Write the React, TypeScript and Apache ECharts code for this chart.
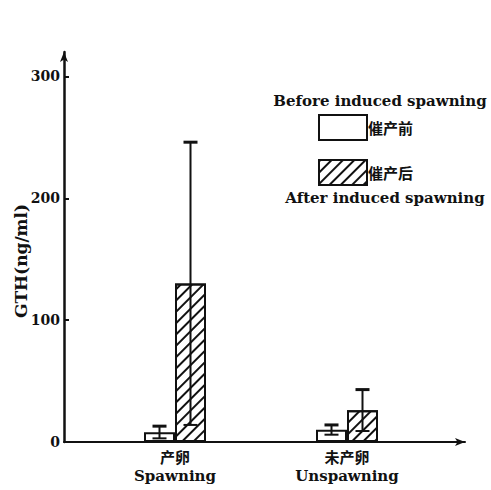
import React, { useEffect, useRef } from "react";
import * as echarts from "echarts";

const categoriesCn = ["产卵", "未产卵"];
const categoriesEn = ["Spawning", "Unspawning"];
const beforeMean = [8, 10];
const beforeErr = [5, 4];
const afterMean = [130, 26];
const afterErr = [116, 17];
const yTicks = [0, 100, 200, 300];
const seriesNames = ["催产前", "催产后"];
const legendEn = ["Before induced spawning", "After induced spawning"];

const SERIF = "DejaVu Serif";
const CJK = "Noto Sans CJK SC";
const INK = "#111";
const BAR_W = 31;

export default function App() {
  const ref = useRef<HTMLDivElement>(null);
  useEffect(() => {
    if (!ref.current) return;
    const chart = echarts.init(ref.current, undefined, { renderer: "svg" });
    const hatch = {
      symbol: "rect",
      symbolSize: 1,
      dashArrayX: [1, 0],
      dashArrayY: [2, 6],
      rotation: -Math.PI / 4,
      color: INK,
      backgroundColor: "rgba(0,0,0,0)",
    };
    const errSeries = (data: number[][], sign: number) => ({
      type: "custom",
      xAxisIndex: 1,
      yAxisIndex: 1,
      z: 5,
      silent: true,
      data,
      renderItem: (params: any, api: any) => {
        const c = api.value(0);
        const m = api.value(1);
        const e = api.value(2);
        const top = api.coord([c, m + e]);
        const bot = api.coord([c, m - e]);
        const x = top[0] + (sign * BAR_W) / 2;
        const cap = 7;
        return {
          type: "group",
          children: [
            { type: "line", shape: { x1: x, y1: top[1], x2: x, y2: bot[1] }, style: { stroke: INK, lineWidth: 2 } },
            { type: "line", shape: { x1: x - cap, y1: top[1], x2: x + cap, y2: top[1] }, style: { stroke: INK, lineWidth: 3 } },
            { type: "line", shape: { x1: x - cap, y1: bot[1], x2: x + cap, y2: bot[1] }, style: { stroke: INK, lineWidth: 2 } },
          ],
        };
      },
    });
    const option: any = {
      animation: false,
      grid: [
        { left: 64, right: 26, top: 52, bottom: 48, outerBoundsMode: "none", containLabel: false },
        { left: 89, width: 344, top: 52, bottom: 48, outerBoundsMode: "none", containLabel: false },
      ],
      xAxis: [
        {
          type: "value",
          gridIndex: 0,
          min: 0,
          max: 1,
          axisLine: { show: true, lineStyle: { color: INK, width: 2 }, symbol: ["none", "arrow"], symbolSize: [6, 10] },
          axisTick: { show: false },
          axisLabel: { show: false },
          splitLine: { show: false },
        },
        {
          type: "category",
          gridIndex: 1,
          data: categoriesCn.map((c, i) => c + "\n" + categoriesEn[i]),
          axisLine: { show: false },
          axisTick: { show: false },
          axisLabel: {
            margin: 4,
            formatter: (v: string) => {
              const [cn, en] = v.split("\n");
              return `{cn|${cn}}\n{en|${en}}`;
            },
            rich: {
              cn: { fontFamily: CJK, fontWeight: "bold", fontSize: 15, lineHeight: 20, color: INK },
              en: { fontFamily: SERIF, fontWeight: "bold", fontSize: 15, lineHeight: 20, color: INK },
            },
          },
        },
      ],
      yAxis: [
        {
          type: "value",
          gridIndex: 0,
          min: 0,
          max: 320,
          name: "GTH(ng/ml)",
          nameLocation: "middle",
          nameGap: 35,
          nameMoveOverlap: false,
          nameTextStyle: { fontFamily: SERIF, fontWeight: "bold", fontSize: 17, color: INK, padding: [0, 28, 0, 0] },
          axisLine: { show: true, lineStyle: { color: INK, width: 2.5 }, symbol: ["none", "arrow"], symbolSize: [6, 10] },
          axisTick: { show: true, inside: true, length: 5, lineStyle: { color: INK, width: 2 }, customValues: yTicks },
          axisLabel: { margin: 4, fontFamily: SERIF, fontWeight: "bold", fontSize: 14, color: INK, customValues: yTicks },
          splitLine: { show: false },
        },
        {
          type: "value",
          gridIndex: 1,
          min: 0,
          max: 320,
          show: false,
        },
      ],
      legend: {
        orient: "vertical",
        left: 318,
        top: 114,
        padding: 0,
        itemWidth: 48,
        itemHeight: 25,
        itemGap: 18,
        icon: "rect",
        textStyle: { fontFamily: CJK, fontWeight: "bold", fontSize: 15, color: INK, padding: [0, 0, 0, -4] },
        data: seriesNames,
      },
      graphic: [
        {
          type: "text",
          x: 380,
          y: 101,
          style: { text: legendEn[0], fontFamily: SERIF, fontWeight: "bold", fontSize: 15, fill: INK, align: "center", verticalAlign: "middle" },
        },
        {
          type: "text",
          x: 385,
          y: 198,
          style: { text: legendEn[1], fontFamily: SERIF, fontWeight: "bold", fontSize: 15, fill: INK, align: "center", verticalAlign: "middle" },
        },
      ],
      series: [
        {
          name: seriesNames[0],
          type: "bar",
          xAxisIndex: 1,
          yAxisIndex: 1,
          barWidth: BAR_W,
          barGap: "0%",
          itemStyle: { color: "#fff", borderColor: INK, borderWidth: 2 },
          data: beforeMean,
        },
        {
          name: seriesNames[1],
          type: "bar",
          xAxisIndex: 1,
          yAxisIndex: 1,
          barWidth: BAR_W,
          barGap: "0%",
          itemStyle: { color: "#fff", borderColor: INK, borderWidth: 2, decal: hatch },
          data: afterMean,
        },
        errSeries(beforeMean.map((m, i) => [i, m, beforeErr[i]]), -1),
        errSeries(afterMean.map((m, i) => [i, m, afterErr[i]]), 1),
      ],
    };
    chart.setOption(option);
    return () => chart.dispose();
  }, []);
  return <div ref={ref} style={{ position: "fixed", left: 0, top: 0, width: 491, height: 490, background: "#fff" }} />;
}
